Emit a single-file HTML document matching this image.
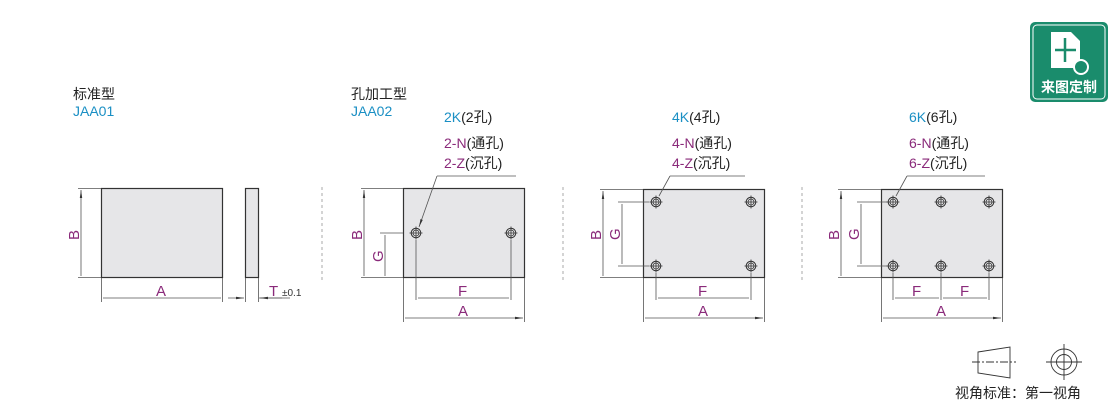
<!DOCTYPE html><html><head><meta charset="utf-8"><style>body{margin:0;background:#fff}svg{display:block}text{font-family:"Liberation Sans","Noto Sans CJK SC",sans-serif}</style></head><body>
<svg width="1110" height="403" viewBox="0 0 1110 403" xmlns="http://www.w3.org/2000/svg">
<defs>
<marker id="a" viewBox="0 0 10 6" refX="10" refY="3" markerWidth="10" markerHeight="6" orient="auto-start-reverse"><path d="M0,1.5L10,3L0,4.5z" fill="#333"/></marker>
<g id="h"><circle r="4.8" fill="none" stroke="#333" stroke-width="1"/><circle r="3" fill="none" stroke="#333" stroke-width="0.8"/><path d="M-6.5,0H6.5M0,-6.5V6.5" stroke="#333" stroke-width="0.8"/></g>
</defs>
<g font-size="14">
<text x="73" y="99" fill="#222">标准型</text><text x="73" y="116" fill="#1a8fc4">JAA01</text>
<text x="351" y="99" fill="#222">孔加工型</text><text x="351" y="116" fill="#1a8fc4">JAA02</text>
<text x="444" y="122"><tspan fill="#1a8fc4">2K</tspan><tspan fill="#222">(2孔)</tspan></text>
<text x="444" y="148"><tspan fill="#8a2a7a">2-N</tspan><tspan fill="#222">(通孔)</tspan></text>
<text x="444" y="168"><tspan fill="#8a2a7a">2-Z</tspan><tspan fill="#222">(沉孔)</tspan></text>
<text x="672" y="122"><tspan fill="#1a8fc4">4K</tspan><tspan fill="#222">(4孔)</tspan></text>
<text x="672" y="148"><tspan fill="#8a2a7a">4-N</tspan><tspan fill="#222">(通孔)</tspan></text>
<text x="672" y="168"><tspan fill="#8a2a7a">4-Z</tspan><tspan fill="#222">(沉孔)</tspan></text>
<text x="909" y="122"><tspan fill="#1a8fc4">6K</tspan><tspan fill="#222">(6孔)</tspan></text>
<text x="909" y="148"><tspan fill="#8a2a7a">6-N</tspan><tspan fill="#222">(通孔)</tspan></text>
<text x="909" y="168"><tspan fill="#8a2a7a">6-Z</tspan><tspan fill="#222">(沉孔)</tspan></text>
</g>
<g stroke="#aaa" stroke-dasharray="3,3"><path d="M322,187V280M563,187V280M802,187V280"/></g>
<g fill="#e6e6e8" stroke="#333" stroke-width="1.2">
<rect x="101.5" y="188.5" width="121" height="89"/><rect x="245.5" y="188.5" width="13" height="89"/>
<rect x="403.5" y="188.5" width="121" height="89"/><rect x="643.5" y="189.5" width="121" height="88"/><rect x="881.5" y="189.5" width="121" height="88"/>
</g>
<g stroke="#555" stroke-width="0.8" fill="none">
<!-- panel1 -->
<path d="M78,188.5H101M78,277.5H101M101.5,278V302M222.5,278V302M245.5,278V302M258.5,278V302M290,298H259"/>
<path d="M81,190V276M103,298H221M228,298H244" marker-end="url(#a)" marker-start="url(#a)"/>
<path d="M282,298H260" marker-end="url(#a)"/>
<!-- panel2 -->
<path d="M361,188.5H403M361,277.5H403M380,233H403M416,240V300M511,240V300M403.5,278V322M524.5,278V322M437,176H516"/>
<path d="M364,190V276M385,235V276M418,298H509M405,318H523" marker-end="url(#a)" marker-start="url(#a)"/>
<path d="M437,176L419,227" marker-end="url(#a)"/>
<!-- panel3 -->
<path d="M600,189.5H643M600,277.5H643M618,202H649M618,266H649M656,273V300M751,273V300M643.5,278V322M764.5,278V322M670,176H745M670,176L659,196"/>
<path d="M603,191V276M622,204V264M658,298H749M645,318H763" marker-end="url(#a)" marker-start="url(#a)"/>
<!-- panel4 -->
<path d="M838,189.5H881M838,277.5H881M857,202H887M857,266H887M893,273V300M941,273V300M989,273V300M881.5,278V322M1002.5,278V322M907,176H985M907,176L896,196"/>
<path d="M841,191V276M861,204V264M895,298H939M943,298H987M883,318H1001" marker-end="url(#a)" marker-start="url(#a)"/>
</g>
<use href="#h" x="416" y="233"/><use href="#h" x="511" y="233"/>
<use href="#h" x="656" y="202"/><use href="#h" x="751" y="202"/><use href="#h" x="656" y="266"/><use href="#h" x="751" y="266"/>
<use href="#h" x="893" y="202"/><use href="#h" x="941" y="202"/><use href="#h" x="989" y="202"/><use href="#h" x="893" y="266"/><use href="#h" x="941" y="266"/><use href="#h" x="989" y="266"/>
<g fill="#8a2a7a" font-size="15">
<text x="156" y="296">A</text><text x="269" y="296">T</text><text x="282" y="296" font-size="10" fill="#333">±0.1</text>
<text x="458" y="296">F</text><text x="458" y="316">A</text>
<text x="698" y="296">F</text><text x="698" y="316">A</text>
<text x="912" y="296">F</text><text x="960" y="296">F</text><text x="936" y="316">A</text>
<text transform="translate(79,240) rotate(-90)">B</text>
<text transform="translate(362,240) rotate(-90)">B</text><text transform="translate(383,262) rotate(-90)">G</text>
<text transform="translate(601,240) rotate(-90)">B</text><text transform="translate(620,240) rotate(-90)">G</text>
<text transform="translate(839,240) rotate(-90)">B</text><text transform="translate(859,240) rotate(-90)">G</text>
</g>
<!-- logo -->
<rect x="1030" y="22" width="78" height="80" rx="5" fill="#1a8c6c"/>
<rect x="1033" y="25" width="72" height="74" rx="4" fill="none" stroke="#fff" stroke-width="1"/>
<path d="M1051,32H1071L1080,41V68H1051Z" fill="#fff"/>
<path d="M1065,38V62M1055,50H1076" stroke="#1a8c6c" stroke-width="2.5"/>
<circle cx="1081" cy="67" r="7" fill="#1a8c6c" stroke="#fff" stroke-width="2"/>
<text x="1069" y="92" fill="#fff" font-size="14" font-weight="bold" text-anchor="middle">来图定制</text>
<!-- view symbol -->
<g stroke="#333" stroke-width="0.9" fill="none">
<path d="M978,352L1010,347V378L978,373Z"/><path d="M972,362H1016" stroke-dasharray="8,2,2,2"/>
<circle cx="1064" cy="362" r="13"/><circle cx="1064" cy="362" r="7.5"/><path d="M1046,362H1082M1064,344V380"/>
</g>
<text x="955" y="398" font-size="14" fill="#222">视角标准：第一视角</text>
</svg></body></html>
